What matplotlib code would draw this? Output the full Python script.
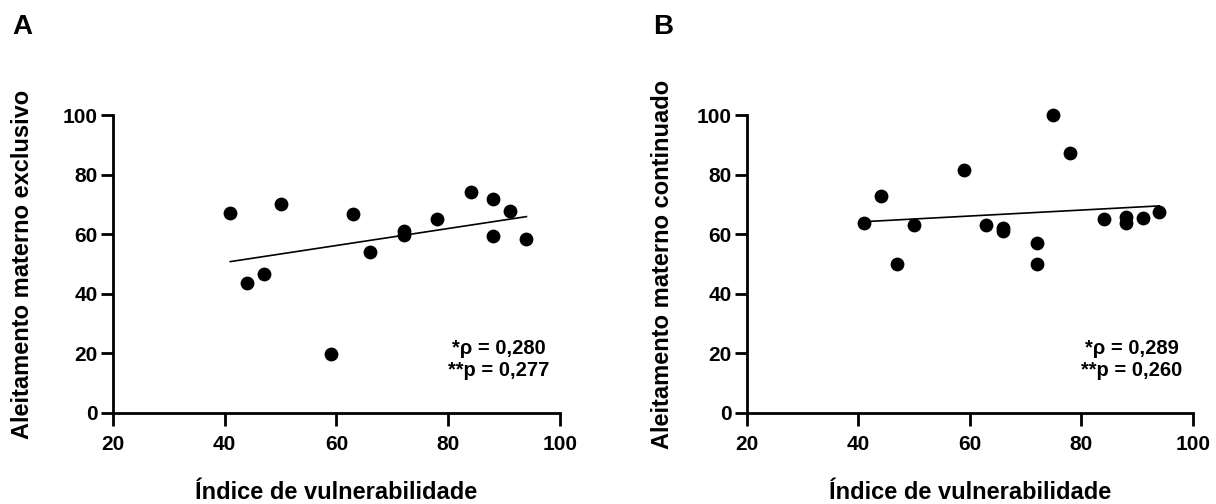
import numpy as np
import matplotlib
matplotlib.use('Agg')
import matplotlib.pyplot as plt

plt.rcParams['font.family'] = ['Liberation Sans', 'DejaVu Sans']
plt.rcParams['font.weight'] = 'bold'

# Painel A - aleitamento materno exclusivo
x_a = [41, 44, 47, 50, 59, 63, 66, 72, 72, 78, 84, 88, 88, 91, 94]
y_a = [67.2, 43.7, 46.5, 70.1, 19.8, 66.7, 54.1, 61.2, 59.7, 65.1, 74.3, 71.8, 59.4, 67.8, 58.3]
fit_a_x = [41, 94]
fit_a_y = [50.8, 65.9]
txt_a = '*ρ = 0,280\n**p = 0,277'

# Painel B - aleitamento materno continuado
x_b = [41, 44, 47, 50, 59, 63, 66, 66, 72, 72, 75, 78, 84, 88, 88, 91, 94]
y_b = [63.7, 72.9, 50.0, 63.0, 81.6, 63.0, 62.2, 61.0, 57.2, 50.0, 100.0, 87.4, 65.0, 65.9, 63.7, 65.5, 67.4]
fit_b_x = [41, 94]
fit_b_y = [64.2, 69.5]
txt_b = '*ρ = 0,289\n**p = 0,260'

xlabel = 'Índice de vulnerabilidade'
ylabels = ['Aleitamento materno exclusivo', 'Aleitamento materno continuado']
letters = ['A', 'B']

fig = plt.figure(figsize=(12.16, 5.04), dpi=100)
ax1 = fig.add_axes([0.0929, 0.1806, 0.3676, 0.5912])
ax2 = fig.add_axes([0.6141, 0.1806, 0.3668, 0.5912])

paineis = [(ax1, x_a, y_a, fit_a_x, fit_a_y, txt_a, -0.177),
           (ax2, x_b, y_b, fit_b_x, fit_b_y, txt_b, -0.164)]

for i, (ax, xs, ys, fx, fy, txt, ylx) in enumerate(paineis):
    ax.scatter(xs, ys, s=80, color='black', zorder=3, clip_on=False)
    ax.plot(fx, fy, color='black', lw=1.2)
    ax.set_xlim(20, 100)
    ax.set_ylim(0, 100)
    ax.set_xticks([20, 40, 60, 80, 100])
    ax.set_yticks([0, 20, 40, 60, 80, 100])
    ax.spines['top'].set_visible(False)
    ax.spines['right'].set_visible(False)
    ax.spines['left'].set_linewidth(2)
    ax.spines['bottom'].set_linewidth(2)
    ax.tick_params(direction='out', length=9, width=2, labelsize=15)
    ax.tick_params(axis='x', pad=7)
    ax.tick_params(axis='y', pad=2)
    for lab in ax.get_xticklabels() + ax.get_yticklabels():
        lab.set_fontweight('bold')
    ax.set_xlabel(xlabel, fontsize=17, fontweight='bold', va='top')
    ax.xaxis.set_label_coords(0.5, -0.228)
    ax.set_ylabel(ylabels[i], fontsize=17, fontweight='bold')
    ax.yaxis.set_label_coords(ylx, 0.5)
    ax.text(89, 18, txt, ha='center', va='center', fontsize=14.5,
            fontweight='bold', linespacing=1.2)

fig.text(12 / 1216, 1 - 27 / 504, letters[0], fontsize=20, fontweight='bold', va='center')
fig.text(653 / 1216, 1 - 27 / 504, letters[1], fontsize=20, fontweight='bold', va='center')

plt.savefig('out.png', dpi=100)
